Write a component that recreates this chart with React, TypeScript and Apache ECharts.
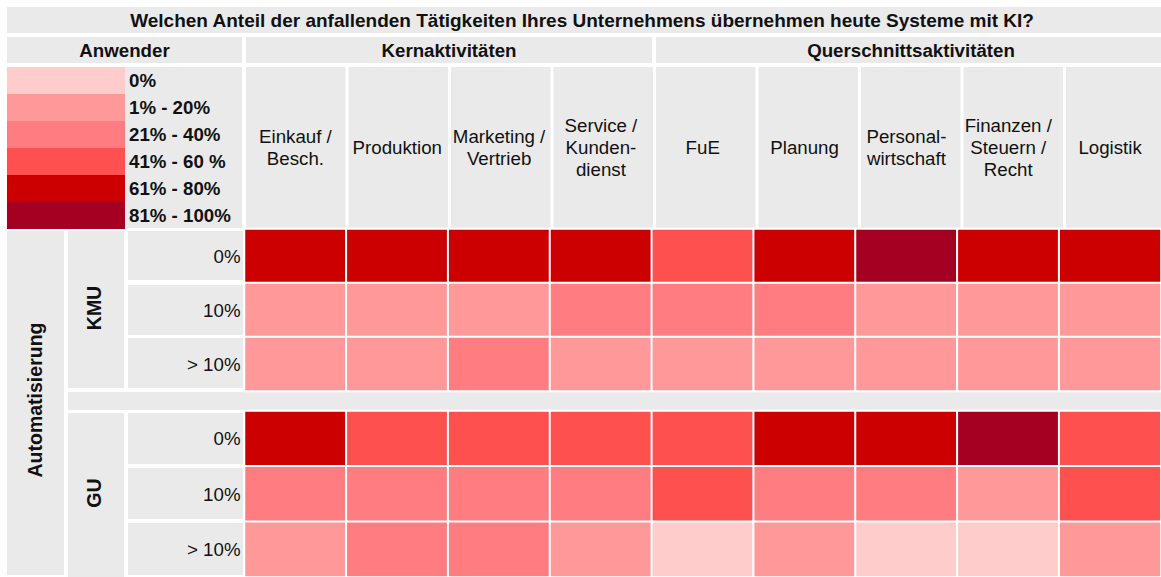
import React, { useEffect, useRef } from "react";
import * as echarts from "echarts";

const title = "Welchen Anteil der anfallenden Tätigkeiten Ihres Unternehmens übernehmen heute Systeme mit KI?";
const groupHeaders = ["Anwender", "Kernaktivitäten", "Querschnittsaktivitäten"];
const columns = [
  "Einkauf /\nBesch.",
  "Produktion",
  "Marketing /\nVertrieb",
  "Service /\nKunden-\ndienst",
  "FuE",
  "Planung",
  "Personal-\nwirtschaft",
  "Finanzen /\nSteuern /\nRecht",
  "Logistik",
];
const rowLabels = ["0%", "10%", "> 10%"];
const companyGroups = ["KMU", "GU"];
const outerLabel = "Automatisierung";

// level index 0..5 per cell
const kmu0 = [4, 4, 4, 4, 3, 4, 5, 4, 4];
const kmu10 = [1, 1, 1, 2, 2, 2, 1, 1, 1];
const kmuOver10 = [1, 1, 2, 1, 1, 1, 1, 1, 1];
const gu0 = [4, 3, 3, 3, 3, 4, 4, 5, 3];
const gu10 = [2, 2, 2, 2, 3, 2, 2, 1, 3];
const guOver10 = [1, 2, 2, 1, 0, 1, 0, 0, 1];

const levelLabels = ["0%", "1% - 20%", "21% - 40%", "41% - 60 %", "61% - 80%", "81% - 100%"];
const levelColors = ["#FFCCCC", "#FF9999", "#FF7C80", "#FF5050", "#CC0000", "#A50021"];

const GRAY = "#eaeaea";
const TXT = "#111";
const FONT = "'Liberation Sans', Arial, sans-serif";
const FS = 18.7;

function toCells(rows: number[][]) {
  const out: number[][] = [];
  rows.forEach((r, ri) => r.forEach((v, ci) => out.push([ci, ri, v])));
  return out;
}

export default function App() {
  const ref = useRef<HTMLDivElement>(null);
  useEffect(() => {
    if (!ref.current) return;
    const chart = echarts.init(ref.current, undefined, { renderer: "svg" });

    const gridLeft = 244.5;
    const colW = 102.5;
    const gridW = colW * columns.length;

    const rect = (x: number, y: number, w: number, h: number, fill = GRAY) => ({
      type: "rect",
      shape: { x, y, width: w, height: h },
      style: { fill },
      z: 0,
      silent: true,
    });
    const text = (t: string, x: number, y: number, opts: any = {}) => ({
      type: "text",
      x,
      y,
      rotation: opts.rotation || 0,
      z: 5,
      silent: true,
      style: {
        text: t,
        fill: TXT,
        fontSize: opts.fontSize || FS,
        fontWeight: opts.bold ? "bold" : "normal",
        fontFamily: FONT,
        align: "center",
        verticalAlign: "middle",
      },
    });

    const graphics: any[] = [];
    // title
    graphics.push(rect(7, 7, 1154, 26));
    graphics.push(text(title, 582, 20.5, { bold: true, fontSize: 19 }));
    // group headers
    graphics.push(rect(7, 37, 235, 26));
    graphics.push(text(groupHeaders[0], 124.5, 50.5, { bold: true }));
    graphics.push(rect(246, 37, 406, 26));
    graphics.push(text(groupHeaders[1], 449, 50.5, { bold: true }));
    graphics.push(rect(656, 37, 505, 26));
    graphics.push(text(groupHeaders[2], 911, 50.5, { bold: true }));
    // legend label background
    graphics.push(rect(125, 67, 117, 161));
    // column header boxes
    columns.forEach((_, i) => {
      const x0 = gridLeft + i * colW + 1.5;
      graphics.push(rect(x0, 67, colW - 3, 161));
    });
    // left blocks
    graphics.push(rect(7, 231, 57, 344));
    graphics.push(text(outerLabel, 35, 400, { bold: true, rotation: Math.PI / 2, fontSize: 19.5 }));
    graphics.push(rect(68, 231, 56, 157));
    graphics.push(text(companyGroups[0], 94, 308, { bold: true, rotation: Math.PI / 2, fontSize: 19.5 }));
    graphics.push(rect(68, 413, 56, 164));
    graphics.push(text(companyGroups[1], 94, 493, { bold: true, rotation: Math.PI / 2, fontSize: 19.5 }));
    // row label boxes
    const kmuRows = [[231, 49], [285, 50], [338, 50]];
    const guRows = [[413, 51], [468, 51], [523, 52]];
    [...kmuRows, ...guRows].forEach(([y, h]) => graphics.push(rect(128, y, 115, h)));
    // gap strip
    graphics.push(rect(68, 392, 1093, 18));

    const yAxisCommon = {
      type: "category",
      data: rowLabels,
      inverse: true,
      axisLine: { show: false },
      axisTick: { show: false },
      splitLine: { show: false },
      axisLabel: { fontSize: FS, color: TXT, margin: 4, fontFamily: FONT },
    };

    const seriesCommon = {
      type: "heatmap",
      itemStyle: { borderColor: "#fff", borderWidth: 2 },
      emphasis: { disabled: true },
      label: { show: false },
    };

    chart.setOption({
      animation: false,
      backgroundColor: "#fff",
      textStyle: { fontFamily: FONT },
      grid: [
        { left: gridLeft, top: 229, width: gridW, height: 162 },
        { left: gridLeft, top: 411, width: gridW, height: 166 },
      ],
      xAxis: [
        {
          type: "category",
          gridIndex: 0,
          data: columns,
          position: "top",
          axisLine: { show: false },
          axisTick: { show: false },
          splitLine: { show: false },
          axisLabel: {
            interval: 0,
            fontSize: FS,
            lineHeight: 22,
            color: TXT,
            margin: 82,
            verticalAlign: "middle",
            fontFamily: FONT,
          },
        },
        {
          type: "category",
          gridIndex: 1,
          data: columns,
          axisLine: { show: false },
          axisTick: { show: false },
          splitLine: { show: false },
          axisLabel: { show: false },
        },
      ],
      yAxis: [
        { ...yAxisCommon, gridIndex: 0 },
        { ...yAxisCommon, gridIndex: 1 },
      ],
      visualMap: {
        type: "piecewise",
        dimension: 2,
        seriesIndex: [0, 1],
        orient: "vertical",
        inverse: true,
        left: 7,
        top: 67,
        padding: 0,
        itemWidth: 118,
        itemHeight: 27,
        itemGap: 0,
        textGap: 4,
        itemSymbol: "rect",
        selectedMode: false,
        hoverLink: false,
        textStyle: { fontSize: FS, fontWeight: "bold", color: TXT, fontFamily: FONT },
        pieces: levelLabels.map((label, i) => ({ value: i, label, color: levelColors[i] })),
      },
      graphic: graphics,
      series: [
        { ...seriesCommon, xAxisIndex: 0, yAxisIndex: 0, data: toCells([kmu0, kmu10, kmuOver10]) },
        { ...seriesCommon, xAxisIndex: 1, yAxisIndex: 1, data: toCells([gu0, gu10, guOver10]) },
      ],
    });

    return () => chart.dispose();
  }, []);

  return (
    <div
      ref={ref}
      style={{ position: "fixed", left: 0, top: 0, width: 1161, height: 577, background: "#fff" }}
    />
  );
}
